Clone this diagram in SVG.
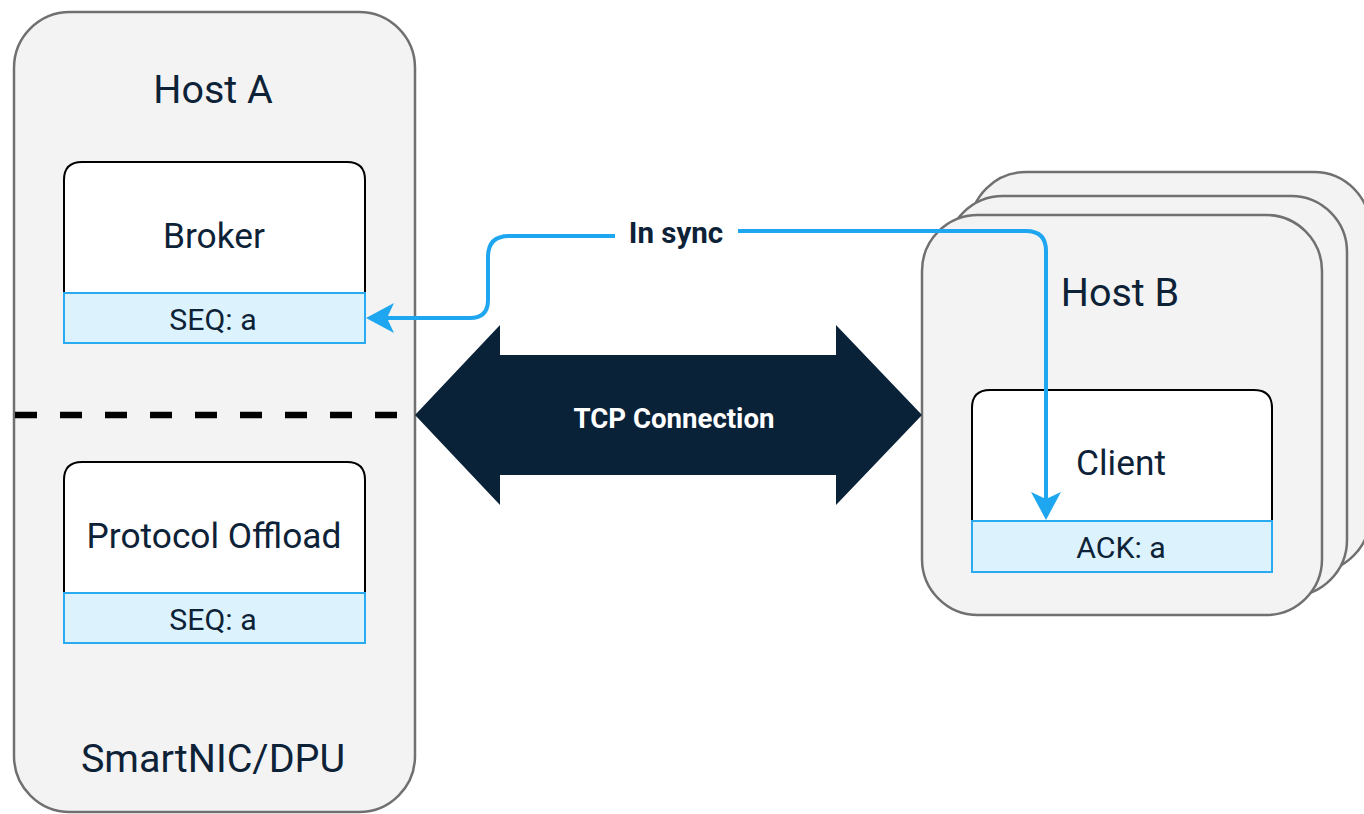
<svg xmlns="http://www.w3.org/2000/svg" width="1364" height="814" viewBox="0 0 1364 814">
  <style>
    .host { fill: #f3f3f3; stroke: #707070; stroke-width: 2.5; }
    .comp { fill: #ffffff; stroke: #000000; stroke-width: 2; }
    .strip { fill: #dcf2fd; stroke: #2aaaf0; stroke-width: 2; }
    .t { font-family: Roboto, "Liberation Sans", sans-serif; fill: #0d2237; text-anchor: middle; }
    .big { font-size: 39.5px; }
    .mid { font-size: 35.3px; }
    .small { font-size: 30.3px; }
    .bold { font-weight: bold; }
    .conn { fill: none; stroke: #1ea7f0; stroke-width: 4; }
  </style>
  <defs>
    <marker id="arrow" markerUnits="userSpaceOnUse" viewBox="0 0 28 30" markerWidth="28" markerHeight="30" refX="18" refY="15" orient="auto-start-reverse">
      <path d="M0,0 L28,15 L0,30 L7,15 Z" fill="#1ea7f0"/>
    </marker>
  </defs>
  <rect width="1364" height="814" fill="#ffffff"/>

  <g id="host-a">
    <rect class="host" x="14" y="12" width="401" height="800" rx="56" ry="56"/>
    <text class="t big" x="213" y="103">Host A</text>
    <line x1="15" y1="415" x2="400" y2="415" stroke="#000" stroke-width="6.5" stroke-dasharray="22 23"/>
    <text class="t big" x="213" y="772">SmartNIC/DPU</text>
  </g>

  <g id="broker">
    <path class="comp" d="M64,293 V180 Q64,162 82,162 H347 Q365,162 365,180 V293"/>
    <text class="t mid" x="214" y="248">Broker</text>
    <rect class="strip" x="64" y="293" width="301" height="50"/>
    <text class="t small" x="213" y="330">SEQ: a</text>
  </g>

  <g id="protocol-offload">
    <path class="comp" d="M64,593 V480 Q64,462 82,462 H347 Q365,462 365,480 V593"/>
    <text class="t mid" x="214" y="548">Protocol Offload</text>
    <rect class="strip" x="64" y="593" width="301" height="50"/>
    <text class="t small" x="213" y="630">SEQ: a</text>
  </g>

  <g id="host-b">
    <rect class="host" x="970" y="172" width="400" height="400" rx="56" ry="56"/>
    <rect class="host" x="947" y="196" width="400" height="400" rx="56" ry="56"/>
    <rect class="host" x="922" y="215" width="400" height="400" rx="56" ry="56"/>
    <text class="t big" x="1120" y="306">Host B</text>
  </g>

  <g id="client">
    <path class="comp" d="M972,521 V408 Q972,390 990,390 H1254 Q1272,390 1272,408 V521"/>
    <text class="t mid" x="1121" y="475">Client</text>
    <rect class="strip" x="972" y="521" width="300" height="51"/>
    <text class="t small" x="1121" y="558">ACK: a</text>
  </g>

  <g id="tcp-connection">
    <polygon points="415,415 500,325 500,355 836,355 836,325 922,415 836,505 836,475 500,475 500,505" fill="#0a2238"/>
    <text class="t bold" x="674" y="428" font-size="27.6" style="fill:#ffffff">TCP Connection</text>
  </g>

  <g id="connectors">
    <path class="conn" marker-start="url(#arrow)" marker-end="url(#arrow)" d="M376,318 H470 Q488,318 488,300 V257 Q488,236 509,236 H676 V231 H1026 Q1046,231 1046,251 V510"/>
    <rect x="615" y="212" width="123" height="40" fill="#ffffff"/>
    <text class="t bold" x="676" y="243" font-size="29.5">In sync</text>
  </g>
</svg>
